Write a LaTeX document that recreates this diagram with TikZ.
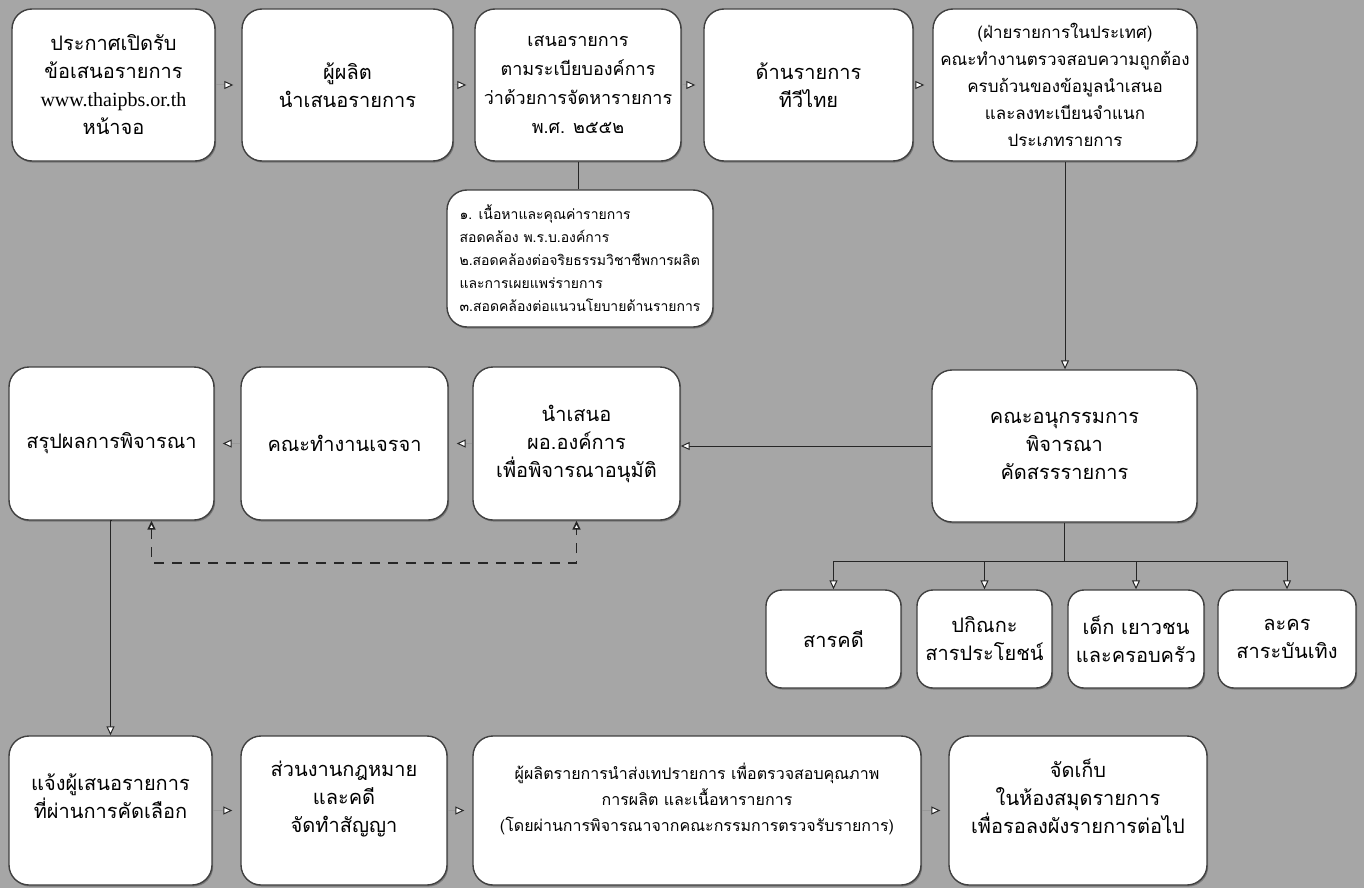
\documentclass[tikz,border=0pt]{standalone}
\usepackage{fontspec}
\newfontfamily\thaifont[Script=Thai]{Loma}
\newfontfamily\urlfont{Liberation Serif}
\usepackage{tikz}
\usetikzlibrary{arrows.meta,shadows,positioning,calc}
\definecolor{paper}{RGB}{166,166,166}
\tikzstyle{box}=[draw=black!75, line width=0.7pt, fill=white, rounded corners=10pt,
                align=center, inner sep=2pt, font=\thaifont\fontsize{10}{14}\selectfont,
                drop shadow={shadow xshift=0.6pt,shadow yshift=-0.8pt,opacity=.5,fill=black!70}]
\tikzstyle{flow}=[draw=black!85, line width=0.5pt, ->,
                >={Triangle[color=black!85,fill=white,length=4.5pt,width=4pt]}]
\tikzstyle{hop}=[flow, draw=black!40, shorten >=4pt]
\tikzset{wh/.style 2 args={minimum width=#1*0.5pt, minimum height=#2*0.5pt}}

\begin{document}
\begin{tikzpicture}[x=0.5pt,y=-0.5pt]
\fill[paper] (0,0) rectangle (1364,888);
\useasboundingbox (0,0) rectangle (1364,888);

% first row
\node[box,wh={203}{152}] (call) at (113.5,85) {ประกาศเปิดรับ\\ข้อเสนอรายการ\\{\urlfont www.thaipbs.or.th}\\หน้าจอ};
\node[box,wh={211}{152}] (producer) at (347.5,85) {ผู้ผลิต\\นำเสนอรายการ};
\node[box,wh={206}{152},font=\thaifont\fontsize{9}{14.5}\selectfont] (propose) at (578,85)
  {เสนอรายการ\\ตามระเบียบองค์การ\\ว่าด้วยการจัดหารายการ\\พ.ศ. ๒๕๕๒};
\node[box,wh={209}{152}] (tvdept) at (808.5,85) {ด้านรายการ\\ทีวีไทย};
\node[box,wh={264}{152},font=\thaifont\fontsize{8.5}{13.5}\selectfont] (check) at (1065,85)
  {(ฝ่ายรายการในประเทศ)\\คณะทำงานตรวจสอบความถูกต้อง\\ครบถ้วนของข้อมูลนำเสนอ\\และลงทะเบียนจำแนก\\ประเภทรายการ};
\node[box,wh={266}{137},align=left,font=\thaifont\fontsize{7}{11.5}\selectfont] (crit) at (580,258.5)
  {๑. เนื้อหาและคุณค่ารายการ\\สอดคล้อง พ.ร.บ.องค์การ\\๒.สอดคล้องต่อจริยธรรมวิชาชีพการผลิต\\และการเผยแพร่รายการ\\๓.สอดคล้องต่อแนวนโยบายด้านรายการ};

% second row
\node[box,wh={205}{153}] (sumup) at (111.5,443.5) {สรุปผลการพิจารณา};
\node[box,wh={207}{153}] (negot) at (344.5,443.5) {คณะทำงานเจรจา};
\node[box,wh={207}{153}] (director) at (576.5,443.5) {นำเสนอ\\ผอ.องค์การ\\เพื่อพิจารณาอนุมัติ};
\node[box,wh={265}{152}] (committee) at (1064.5,446) {คณะอนุกรรมการ\\พิจารณา\\คัดสรรรายการ};

% program types
\node[box,wh={135}{98},rounded corners=8pt] (docu) at (833.5,639) {สารคดี};
\node[box,wh={135}{98},rounded corners=8pt] (variety) at (984.5,639) {ปกิณกะ\\สารประโยชน์};
\node[box,wh={136}{98},rounded corners=8pt] (kids) at (1136,639) {เด็ก เยาวชน\\และครอบครัว};
\node[box,wh={138}{98},rounded corners=8pt] (drama) at (1287,639) {ละคร\\สาระบันเทิง};

% third row
\node[box,wh={203}{149}] (notify) at (110.5,810.5) {แจ้งผู้เสนอรายการ\\ที่ผ่านการคัดเลือก\\~};
\node[box,wh={206}{149}] (legal) at (344,810.5) {ส่วนงานกฎหมาย\\และคดี\\จัดทำสัญญา\\~};
\node[box,wh={448}{149},font=\thaifont\fontsize{8}{13}\selectfont] (tape) at (697,810.5)
  {ผู้ผลิตรายการนำส่งเทปรายการ เพื่อตรวจสอบคุณภาพ\\การผลิต และเนื้อหารายการ\\(โดยผ่านการพิจารณาจากคณะกรรมการตรวจรับรายการ)\\~};
\node[box,wh={258}{149}] (store) at (1078,810.5) {จัดเก็บ\\ในห้องสมุดรายการ\\เพื่อรอลงผังรายการต่อไป\\~};

% connectors
\draw[hop] (call) -- (producer);
\draw[hop] (producer) -- (propose);
\draw[hop] (propose) -- (tvdept);
\draw[hop] (tvdept) -- (check);
\draw[draw=black!85,line width=0.5pt] (propose.south) -- (propose.south |- crit.north);
\draw[flow] (check.south) -- (check.south |- committee.north);
\draw[flow] (committee.west) -- (committee.west -| director.east);
\draw[hop] (director) -- (negot);
\draw[hop] (negot) -- (sumup);
\draw[flow] (sumup.south) -- (sumup.south -| notify.north) -- (notify.north);
\draw[flow,<->,dash pattern=on 5pt off 4pt,line width=0.8pt]
  ([xshift=20pt]sumup.south) -- ++(0,42) -| (director.south);
\path (committee.south) ++(0,39) coordinate (bus);
\draw[draw=black!85,line width=0.5pt] (committee.south) -- (bus);
\foreach \kind in {docu,variety,kids,drama}
  \draw[flow] (bus) -| (\kind.north);
\draw[hop] (notify) -- (legal);
\draw[hop] (legal) -- (tape);
\draw[hop] (tape) -- (store);
\end{tikzpicture}
\end{document}
